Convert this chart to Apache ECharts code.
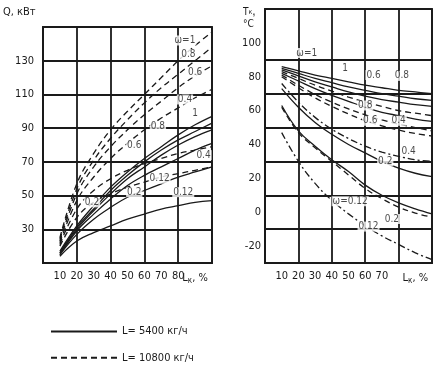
<!DOCTYPE html>
<html><head><meta charset="utf-8">
<script src="https://cdn.jsdelivr.net/npm/echarts@6/dist/echarts.min.js"></script>
<style>html,body{margin:0;background:#fff}#c{width:440px;height:374px}</style>
</head><body><div id="c"></div>
<script>
// shared x values, L_k, %
const LK = [10,20,30,40,50,60,70,80,90,100];

// Left panel: Q, кВт  (solid: L=5400, dashed: L=10800)
const qS_1   = [17,32,44,55,64,72,79,86,92,97];
const qS_08  = [16,31,42,53,62,70,77,83,88,93];
const qS_06  = [16,30,41,51,60,67,74,80,85,89];
const qS_04  = [15,29,39,48,56,62,67,72,77,81];
const qS_02  = [15,27,36,43,49,53,57,61,64,67];
const qS_012 = [14,23,28,32,36,39,42,44,46,47];
const qD_1   = [25,57,75,89,100,110,120,130,139,147];
const qD_08  = [24,54,71,84,95,105,114,122,130,138];
const qD_06  = [23,51,67,79,89,98,106,114,121,127];
const qD_04  = [22,47,61,72,81,89,96,102,108,113];
const qD_02  = [21,42,53,60,65,69,72,75,77,79];
const qD_012 = [20,37,46,51,55,58,61,63,65,67];

// Right panel: T_k, °C
const tS_1   = [86,83.5,81,79,77,75,73.5,72,71,70];
const tS_08  = [85,82,79,76.5,74,72,70,68.5,67,66];
const tS_06  = [84,80.5,77,74,71,68.5,66.5,65,63.5,62.5];
const tS_04  = [82,77.5,73,69,65.5,62,59,57,55,53.6];
const tS_02  = [73,62,53,46,40,35,30,26,23,21];
const tS_012 = [63,48,39,31,24,16,10,5.5,2,-1];
const tD_1   = [83,79,75,71.5,68,65,62.5,60,58.5,57];
const tD_08  = [81,75,69.5,65,61,57.5,54.5,52,50,48];
const tD_06  = [80,73.5,67.5,62.5,58,54,51,48.5,46.5,45];
const tD_04  = [76,65,56,49,43.5,39,35.5,33,31,30];
const tD_02  = [62,47,38,30,22,14,8,3,-0.5,-3];
const tD_012 = [47,30,17,7,-1,-8,-14,-19,-24,-28];

// ticks / labels
const X_LABELS_L = [10,20,30,40,50,60,70,80];
const X_LABELS_R = [10,20,30,40,50,60,70];
const Q_LABELS = [30,50,70,90,110,130];
const T_LABELS = [-20,0,20,40,60,80,100];
const T_GRID = [-10,10,30,50,70,90];

// curve annotations [x, y, text]
const annL = [[84,142,'ω=1'],[86,134,'0.8'],[90,123,'0.6'],[84,107,'0.4'],[90,99,'1'],[68,91,'0.8'],
  [54,80,'0.6'],[95,74,'0.4'],[69,60,'0.12'],[54,52,'0.2'],[83,52,'0.12'],[29,46,'0.2']];
const annR = [[25,94,'ω=1'],[48,85,'1'],[65,81,'0.6'],[82,80.5,'0.8'],[60,63,'0.8'],[63,54,'0.6'],
  [80,54,'0.4'],[86,36,'0.4'],[72,30,'0.2'],[51,6.5,'ω=0.12'],[76,-4,'0.2'],[62,-8.5,'0.12']];

const S1 = 'L= 5400 кг/ч', S2 = 'L= 10800 кг/ч';
const FONT = "'Liberation Sans Narrow','DejaVu Sans Condensed','Liberation Sans',sans-serif";
const INK = '#1a1a1a';
const GW = 1.8;

function line(gi, name, vals, dash){
  return {type:'line', name, xAxisIndex:gi, yAxisIndex:gi, smooth:0.4, symbol:'none',
    data: LK.map((x,i)=>[x,vals[i]]),
    lineStyle:{color:INK, width:1.3, type: dash || 'solid'}, itemStyle:{color:INK},
    emphasis:{disabled:true}, z:3};
}
function ann(gi, arr){
  return {type:'scatter', xAxisIndex:gi, yAxisIndex:gi, symbolSize:0, silent:true, z:5,
    data: arr.map(a=>({value:[a[0],a[1]], name:a[2]})),
    label:{show:true, position:'inside', formatter:p=>p.name, color:INK, fontSize:10,
      fontFamily:FONT, backgroundColor:'#fff', padding:[0,1]}};
}
const xName = {a:{fontSize:11,color:INK,fontFamily:FONT}, s:{fontSize:8,color:INK,fontFamily:FONT,verticalAlign:'bottom',padding:[6,0,0,0]}};
function xAxis(gi, labels){
  return {type:'value', gridIndex:gi, min:0, max:100, interval:10,
    axisLine:{show:true, onZero:false, lineStyle:{color:INK,width:GW}}, axisTick:{show:false},
    splitLine:{show:true, lineStyle:{color:[INK,'rgba(0,0,0,0)'], width:GW}},
    axisLabel:{margin:8, fontSize:11, color:INK, fontFamily:FONT,
      formatter:v=> labels.includes(v) ? String(v) : (v===90 ? '{a|L}{s|к}{a|, %}' : ''), rich:xName}};
}

const rightGrid = {type:'line', xAxisIndex:1, yAxisIndex:1, data:[], silent:true, z:2,
  markLine:{silent:true, symbol:'none', animation:false, label:{show:false},
    lineStyle:{color:INK, width:GW, type:'solid'},
    data: T_GRID.map(v=>({yAxis:v}))}};

const option = {
  backgroundColor:'#fff',
  animation:false,
  grid:[
    {left:43, top:27, width:169, height:236, show:true, borderColor:INK, borderWidth:GW},
    {left:265, top:9, width:167, height:254, show:true, borderColor:INK, borderWidth:GW}
  ],
  xAxis:[xAxis(0, X_LABELS_L), xAxis(1, X_LABELS_R)],
  yAxis:[
    {type:'value', gridIndex:0, min:10, max:150, interval:10,
     axisLine:{show:true, onZero:false, lineStyle:{color:INK,width:GW}}, axisTick:{show:false},
     splitLine:{show:true, lineStyle:{color:[INK,'rgba(0,0,0,0)'], width:GW}},
     axisLabel:{margin:9, fontSize:11, color:INK, fontFamily:FONT,
       formatter:v=> Q_LABELS.includes(v) ? String(v) : ''}},
    {type:'value', gridIndex:1, min:-30, max:120, interval:10,
     axisLine:{show:true, onZero:false, lineStyle:{color:INK,width:GW}}, axisTick:{show:false},
     splitLine:{show:false},
     axisLabel:{margin:4, fontSize:11, color:INK, fontFamily:FONT,
       formatter:v=> T_LABELS.includes(v) ? String(v) : ''}}
  ],
  legend:{data:[S1,S2], orient:'vertical', left:45, top:321, itemWidth:66, itemHeight:14, itemGap:15,
    itemStyle:{opacity:0}, textStyle:{fontSize:11, color:INK, fontFamily:FONT}, selectedMode:false},
  graphic:[
    {type:'text', left:3, top:7, style:{text:'Q, кВт', fill:INK, font:"11px "+FONT}},
    {type:'text', left:243, top:6, style:{text:'{a|T}{s|к},\n{a|°C}', fill:INK,
      rich:{a:{fontSize:10,fontFamily:FONT,fill:INK,lineHeight:12}, s:{fontSize:7,fontFamily:FONT,fill:INK}}}}
  ],
  series:[
    line(0,S1,qS_1), line(0,S1,qS_08), line(0,S1,qS_06), line(0,S1,qS_04), line(0,S1,qS_02), line(0,S1,qS_012),
    line(0,S2,qD_1,[6,4]), line(0,S2,qD_08,[6,4]), line(0,S2,qD_06,[6,4]), line(0,S2,qD_04,[6,4]), line(0,S2,qD_02,[6,4]), line(0,S2,qD_012,[6,4]),
    line(1,S1,tS_1), line(1,S1,tS_08), line(1,S1,tS_06), line(1,S1,tS_04), line(1,S1,tS_02), line(1,S1,tS_012),
    line(1,S2,tD_1,[6,4]), line(1,S2,tD_08,[6,4]), line(1,S2,tD_06,[6,4]), line(1,S2,tD_04,[7,3,2,3]), line(1,S2,tD_02,[6,4]), line(1,S2,tD_012,[7,3,2,3]),
    rightGrid,
    ann(0, annL), ann(1, annR)
  ]
};
const chart = echarts.init(document.getElementById('c'), null, {renderer:'canvas'});
chart.setOption(option);
</script></body></html>
